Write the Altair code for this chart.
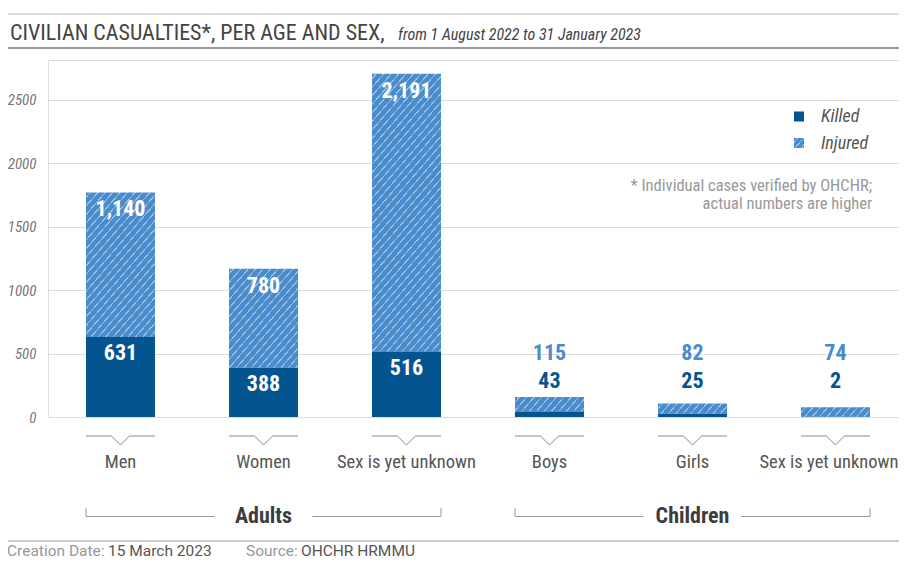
import altair as alt
import pandas as pd

# ---------------- data ----------------
categories = ["Men", "Women", "Sex is yet unknown", "Boys", "Girls", "Sex is yet unknown"]
age_groups = ["Adults", "Adults", "Adults", "Children", "Children", "Children"]
killed = [631, 388, 516, 43, 25, 2]
injured = [1140, 780, 2191, 115, 82, 74]
y_ticks = [0, 500, 1000, 1500, 2000, 2500]

title_main = "CIVILIAN CASUALTIES*, PER AGE AND SEX,"
title_sub = "from 1 August 2022 to 31 January 2023"
note_lines = ["* Individual cases verified by OHCHR;", "actual numbers are higher"]
legend_labels = ["Killed", "Injured"]
footer_keys = ["Creation Date:", "Source:"]
footer_vals = ["15 March 2023", "OHCHR HRMMU"]

# ---------------- styles ----------------
FONT = "Roboto Condensed, Liberation Sans Narrow, Roboto, sans-serif"
FOOT_FONT = "Roboto, sans-serif"
KILLED_C = "#04558f"
INJ_C = "#4a8bcb"
STRIPE_C = "#98bfe6"
TXT = "#555555"
LIGHT = "#999999"

W, H = 851, 357
Y_MAX = 2815
BAR_W = 69

df = pd.DataFrame({
    "idx": list(range(len(categories))),
    "cat": categories,
    "grp": age_groups,
    "killed": killed,
    "injured": injured,
})
df["total"] = df["killed"] + df["injured"]
df["killed_lbl"] = df["killed"].map("{:,}".format)
df["injured_lbl"] = df["injured"].map("{:,}".format)
last_idx = len(categories) - 1

gdf = df.groupby("grp", sort=False)["idx"].agg(["min", "max"]).reset_index()
gdf.columns = ["grp", "first", "last"]
gdf["center"] = (gdf["first"] + gdf["last"]) / 2

xs = alt.Scale(domain=[-0.50699, 5.44406], nice=False, zero=False, padding=0)
ys = alt.Scale(domain=[0, Y_MAX], nice=False, padding=0)
yaxis = alt.Axis(values=y_ticks, format="d", grid=True, gridColor="#dddddd", domain=False,
                 ticks=False, labelFontStyle="italic", labelColor="#777777", labelFontSize=15,
                 labelPadding=12, title=None, labelFont=FONT)

base = alt.Chart(df)
X = alt.X("idx:Q", scale=xs, axis=None)


def hatch(bar_h, bar_w=BAR_W, slope=1.15, period=5.6, sw=1.1):
    """Diagonal stripe fill (style only) as a bbox linear gradient."""
    h = max(bar_h, 1.0)
    gx, gy = slope / h, 1.0 / bar_w
    f = (gx + gy) / (gx * gx + gy * gy)
    dist = (bar_w * slope + h) / (1 + slope * slope) ** 0.5
    stops = [{"offset": 0, "color": INJ_C}]
    k = period * 0.5
    while k + sw < dist:
        a, b = k / dist, (k + sw) / dist
        stops += [{"offset": a, "color": INJ_C}, {"offset": a, "color": STRIPE_C},
                  {"offset": b, "color": STRIPE_C}, {"offset": b, "color": INJ_C}]
        k += period
    stops.append({"offset": 1, "color": INJ_C})
    return {"gradient": "linear", "x1": 0, "y1": 0, "x2": gx * f, "y2": gy * f, "stops": stops}


px_per_unit = H / Y_MAX
inj_bars = []
for i, v in enumerate(injured):
    inj_bars.append(
        base.transform_filter(f"datum.idx == {i}").mark_bar(size=BAR_W, color=hatch(v * px_per_unit)).encode(
            x=X, y=alt.Y("total:Q", scale=ys, axis=yaxis), y2="killed:Q"))

killed_bar = base.mark_bar(size=BAR_W, color=KILLED_C).encode(
    x=X, y=alt.Y("killed:Q", scale=ys, axis=yaxis))

adult = "datum.grp == 'Adults'"
child = "datum.grp == 'Children'"
lbl_kw = dict(font=FONT, fontWeight="bold", fontSize=22, baseline="middle", align="center")
adult_inj = base.transform_filter(adult).mark_text(color="white", dy=17, **lbl_kw).encode(
    x=X, y=alt.Y("total:Q", scale=ys, axis=yaxis), text="injured_lbl:N")
adult_kil = base.transform_filter(adult).mark_text(color="white", dy=16, **lbl_kw).encode(
    x=X, y=alt.Y("killed:Q", scale=ys, axis=yaxis), text="killed_lbl:N")
child_inj = base.transform_filter(child).mark_text(color=INJ_C, **lbl_kw).encode(
    x=X, y=alt.value(292.5), text="injured_lbl:N")
child_kil = base.transform_filter(child).mark_text(color=KILLED_C, **lbl_kw).encode(
    x=X, y=alt.value(321), text="killed_lbl:N")

# category brackets
BR_Y, BR_V = 376, 385
br_c = "#8a8a8a"


def seg(xo, x2o, y1, y2):
    return base.mark_rule(color=br_c, strokeWidth=1, xOffset=xo, x2Offset=x2o).encode(
        x=X, x2="idx:Q", y=alt.value(y1), y2=alt.value(y2))


brackets = [seg(-34.5, -9, BR_Y, BR_Y), seg(-9, 0, BR_Y, BR_V),
            seg(0, 9, BR_V, BR_Y), seg(9, 34.5, BR_Y, BR_Y)]

cat_kw = dict(font=FONT, fontSize=18.5, color=TXT, baseline="alphabetic")
cat_lbl = base.transform_filter(f"datum.idx < {last_idx}").mark_text(align="center", **cat_kw).encode(
    x=X, y=alt.value(408), text="cat:N")
# last label kept inside the canvas edge
cat_lbl_last = base.transform_filter(f"datum.idx == {last_idx}").mark_text(
    align="right", xOffset=63, **cat_kw).encode(x=X, y=alt.value(408), text="cat:N")

# group brackets
gb = alt.Chart(gdf)
GY, GT = 456.5, 448
g_c = "#999999"
g_left = gb.mark_rule(color=g_c, xOffset=-34.5, x2Offset=-49).encode(
    x=alt.X("first:Q", scale=xs, axis=None), x2="center:Q", y=alt.value(GY), y2=alt.value(GY))
g_right = gb.mark_rule(color=g_c, xOffset=49, x2Offset=34.5).encode(
    x=alt.X("center:Q", scale=xs, axis=None), x2="last:Q", y=alt.value(GY), y2=alt.value(GY))
g_ltick = gb.mark_rule(color=g_c, xOffset=-34.5).encode(
    x=alt.X("first:Q", scale=xs, axis=None), y=alt.value(GT), y2=alt.value(GY))
g_rtick = gb.mark_rule(color=g_c, xOffset=34.5).encode(
    x=alt.X("last:Q", scale=xs, axis=None), y=alt.value(GT), y2=alt.value(GY))
g_txt = gb.mark_text(font=FONT, fontSize=22, fontWeight="bold", color="#3d3d3d",
                     align="center", baseline="alphabetic").encode(
    x=alt.X("center:Q", scale=xs, axis=None), y=alt.value(463), text="grp:N")


# header / footer / legend / note (single-row text layers)
def one(s):
    return alt.Chart(pd.DataFrame({"t": [s]}))


def hrule(y, color, w=1):
    return one("").mark_rule(color=color, strokeWidth=w).encode(
        x=alt.value(-40), x2=alt.value(W), y=alt.value(y), y2=alt.value(y))


lines = [hrule(-46, "#bbbbbb"), hrule(-12, "#777777", 1.5), hrule(481, "#999999")]


def txt(s, x, y, size, color, align="left", style="normal", weight="normal",
        baseline="alphabetic", font=FONT):
    return one(s).mark_text(font=font, fontSize=size, color=color, align=align,
                            fontStyle=style, fontWeight=weight, baseline=baseline).encode(
        x=alt.value(x), y=alt.value(y), text="t:N")


t_main = txt(title_main, -38, -20, 22, "#444444")
t_sub = txt(title_sub, 350, -20, 16, "#444444", style="italic")

notes = [txt(note_lines[0], 824, 126, 16.5, LIGHT, align="right", baseline="middle"),
         txt(note_lines[1], 824, 144, 16.5, LIGHT, align="right", baseline="middle")]

leg_sq = [one(legend_labels[0]).mark_square(size=100, opacity=1, color=KILLED_C).encode(
              x=alt.value(751), y=alt.value(56.5)),
          one(legend_labels[1]).mark_square(size=100, opacity=1, color=hatch(10, 10, period=4.5)).encode(
              x=alt.value(751), y=alt.value(83))]
leg_tx = [txt(legend_labels[0], 773, 57, 18, TXT, style="italic", baseline="middle"),
          txt(legend_labels[1], 773, 84, 18, TXT, style="italic", baseline="middle")]

FY = 495.5
footer = [txt(footer_keys[0], -41, FY, 15.5, LIGHT, font=FOOT_FONT),
          txt(footer_vals[0], 60, FY, 15.5, TXT, font=FOOT_FONT),
          txt(footer_keys[1], 198, FY, 15.5, LIGHT, font=FOOT_FONT),
          txt(footer_vals[1], 253, FY, 15.5, TXT, font=FOOT_FONT)]

chart = alt.layer(
    *inj_bars, killed_bar, adult_inj, adult_kil, child_inj, child_kil,
    *brackets, cat_lbl, cat_lbl_last, g_left, g_right, g_ltick, g_rtick, g_txt,
    *lines, t_main, t_sub, *notes, *leg_sq, *leg_tx, *footer
).properties(
    width=W, height=H,
    padding={"left": 40, "top": 52, "right": 0, "bottom": 142},
    autosize=alt.AutoSizeParams(type="none"),
).configure_view(strokeWidth=0).configure(font=FONT)

chart.save("out.html", embed_options={"renderer": "svg", "actions": False})
